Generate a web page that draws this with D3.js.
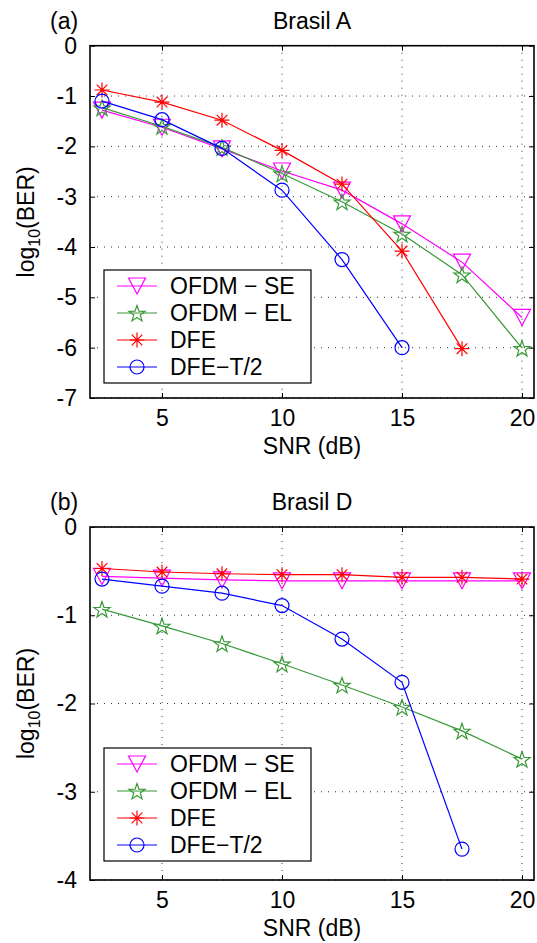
<!DOCTYPE html>
<html><head><meta charset="utf-8">
<script src="https://cdn.jsdelivr.net/npm/d3@7"></script>
<style>
html,body{margin:0;padding:0;background:#fff;}
text{font-family:"Liberation Sans",Arial,Helvetica,sans-serif;fill:#000;}
</style></head>
<body>
<svg id="chart" width="537" height="943"></svg>
<script>
// ---- data ----
const snr = [2.5, 5, 7.5, 10, 12.5, 15, 17.5, 20];
const seriesNames = ["OFDM − SE", "OFDM − EL", "DFE", "DFE−T/2"];
const xTicks = [5, 10, 15, 20];

// Panel (a) Brasil A
const a_ofdmSE = [-1.28, -1.62, -2.05, -2.49, -2.87, -3.54, -4.30, -5.40];
const a_ofdmEL = [-1.23, -1.60, -2.02, -2.54, -3.10, -3.74, -4.55, -6.01];
const a_dfe    = [-0.88, -1.12, -1.48, -2.08, -2.75, -4.08, -6.02];
const a_dfeT2  = [-1.10, -1.47, -2.04, -2.87, -4.25, -6.00];
const a_yTicks = [0, -1, -2, -3, -4, -5, -6, -7];

// Panel (b) Brasil D
const b_ofdmSE = [-0.56, -0.58, -0.60, -0.61, -0.61, -0.61, -0.61, -0.61];
const b_ofdmEL = [-0.93, -1.12, -1.32, -1.55, -1.79, -2.04, -2.31, -2.63];
const b_dfe    = [-0.47, -0.51, -0.53, -0.54, -0.54, -0.57, -0.57, -0.59];
const b_dfeT2  = [-0.59, -0.67, -0.75, -0.89, -1.27, -1.76, -3.65];
const b_yTicks = [0, -1, -2, -3, -4];

const colors = ["#ff00ff", "#379937", "#ff0000", "#0000ff"];
const markers = ["tri", "star", "ast", "circ"];

const svg = d3.select("#chart");
const FS = 23;

function markerPath(type) {
  const p = d3.path();
  if (type === "tri") {
    p.moveTo(-8.5, -8); p.lineTo(8.5, -8); p.lineTo(0, 8); p.closePath();
  } else if (type === "star") {
    const R = 8.5, r = 3.4;
    for (let i = 0; i < 10; i++) {
      const ang = -Math.PI / 2 + i * Math.PI / 5;
      const rad = i % 2 === 0 ? R : r;
      const x = rad * Math.cos(ang), y = rad * Math.sin(ang) + 1;
      if (i === 0) p.moveTo(x, y); else p.lineTo(x, y);
    }
    p.closePath();
  } else if (type === "ast") {
    const R = 7.5, d = R * Math.SQRT1_2;
    p.moveTo(-R, 0); p.lineTo(R, 0);
    p.moveTo(0, -R); p.lineTo(0, R);
    p.moveTo(-d, -d); p.lineTo(d, d);
    p.moveTo(-d, d); p.lineTo(d, -d);
  } else {
    p.arc(0, 0, 7, 0, 2 * Math.PI);
  }
  return p.toString();
}

function panel(cfg) {
  const {left, right, top, bottom, yDomain, yTicks, data, title, tag, legendTop} = cfg;
  const x = d3.scaleLinear().domain([2, 20.5]).range([left, right]);
  const y = d3.scaleLinear().domain(yDomain).range([bottom, top]);
  const g = svg.append("g");

  // grid
  g.append("g").selectAll("line.gx").data(xTicks).join("line")
    .attr("x1", d => x(d)).attr("x2", d => x(d)).attr("y1", top).attr("y2", bottom)
    .attr("stroke", "#000").attr("stroke-width", 0.8).attr("stroke-dasharray", "1,6");
  g.append("g").selectAll("line.gy").data(yTicks).join("line")
    .attr("x1", left).attr("x2", right).attr("y1", d => y(d)).attr("y2", d => y(d))
    .attr("stroke", "#000").attr("stroke-width", 0.8).attr("stroke-dasharray", "1,6");

  // axes with inward ticks
  const fmt = d => String(d).replace("\u2212", "-");
  const xAxisB = d3.axisBottom(x).tickValues(xTicks).tickSizeInner(-5).tickSizeOuter(0).tickPadding(12);
  const gx = g.append("g").attr("transform", `translate(0,${bottom})`).call(xAxisB);
  gx.select(".domain").remove();
  gx.selectAll("text").attr("font-size", FS).attr("font-family", "Liberation Sans, Arial, sans-serif").attr("dy", "0.71em");
  const gxt = g.append("g").attr("transform", `translate(0,${top})`).call(d3.axisTop(x).tickValues(xTicks).tickSizeInner(-5).tickSizeOuter(0).tickFormat(""));
  gxt.select(".domain").remove();

  const gy = g.append("g").attr("transform", `translate(${left},0)`)
    .call(d3.axisLeft(y).tickValues(yTicks).tickSizeInner(-5).tickSizeOuter(0).tickPadding(13).tickFormat(d => d === 0 ? "0" : "-" + Math.abs(d)));
  gy.select(".domain").remove();
  gy.selectAll("text").attr("font-size", FS).attr("font-family", "Liberation Sans, Arial, sans-serif");
  const gyr = g.append("g").attr("transform", `translate(${right},0)`)
    .call(d3.axisRight(y).tickValues(yTicks).tickSizeInner(-5).tickSizeOuter(0).tickFormat(""));
  gyr.select(".domain").remove();
  g.selectAll(".tick line").attr("stroke", "#000").attr("stroke-width", 1);

  // series
  const line = d3.line().x(d => x(d[0])).y(d => y(d[1]));
  data.forEach((vals, i) => {
    const pts = vals.map((v, k) => [snr[k], v]);
    g.append("path").attr("d", line(pts)).attr("fill", "none")
      .attr("stroke", colors[i]).attr("stroke-width", 1.2);
    g.append("g").selectAll("path").data(pts).join("path")
      .attr("transform", d => `translate(${x(d[0])},${y(d[1])})`)
      .attr("d", markerPath(markers[i])).attr("fill", "none")
      .attr("stroke", colors[i]).attr("stroke-width", 1.2);
  });

  // box
  g.append("rect").attr("x", left).attr("y", top).attr("width", right - left).attr("height", bottom - top)
    .attr("fill", "none").attr("stroke", "#000").attr("stroke-width", 1.6);

  // title, tag, labels
  g.append("text").attr("x", (left + right) / 2).attr("y", top - 17).attr("text-anchor", "middle")
    .attr("font-size", FS).text(title);
  g.append("text").attr("x", 50).attr("y", top - 17).attr("font-size", FS).text(tag);
  g.append("text").attr("x", (left + right) / 2).attr("y", bottom + 56).attr("text-anchor", "middle")
    .attr("font-size", FS).text("SNR (dB)");
  const yl = g.append("text").attr("transform", `translate(34,${(top + bottom) / 2}) rotate(-90)`)
    .attr("text-anchor", "middle").attr("font-size", FS);
  yl.append("tspan").text("log");
  yl.append("tspan").attr("font-size", 16).attr("dy", 6).text("10");
  yl.append("tspan").attr("dy", -6).text("(BER)");

  // legend
  const lx = 104, lw = 207, lh = 113;
  const lg = g.append("g");
  lg.append("rect").attr("x", lx).attr("y", legendTop).attr("width", lw).attr("height", lh)
    .attr("fill", "#fff").attr("stroke", "#000").attr("stroke-width", 1.2);
  const offs = [16, 43, 70, 97];
  seriesNames.forEach((nm, i) => {
    const cy = legendTop + offs[i];
    lg.append("line").attr("x1", lx + 13).attr("x2", lx + 53).attr("y1", cy).attr("y2", cy)
      .attr("stroke", colors[i]).attr("stroke-width", 1.2);
    lg.append("path").attr("transform", `translate(${lx + 33},${cy})`).attr("d", markerPath(markers[i]))
      .attr("fill", "none").attr("stroke", colors[i]).attr("stroke-width", 1.2);
    lg.append("text").attr("x", lx + 66).attr("y", cy).attr("dy", "0.36em").attr("font-size", FS).text(nm);
  });
}

panel({left: 90, right: 534, top: 45.7, bottom: 398, yDomain: [-7, 0], yTicks: a_yTicks,
  data: [a_ofdmSE, a_ofdmEL, a_dfe, a_dfeT2], title: "Brasil A", tag: "(a)", legendTop: 270});
panel({left: 90, right: 534, top: 527, bottom: 880, yDomain: [-4, 0], yTicks: b_yTicks,
  data: [b_ofdmSE, b_ofdmEL, b_dfe, b_dfeT2], title: "Brasil D", tag: "(b)", legendTop: 748});
</script>
</body></html>
